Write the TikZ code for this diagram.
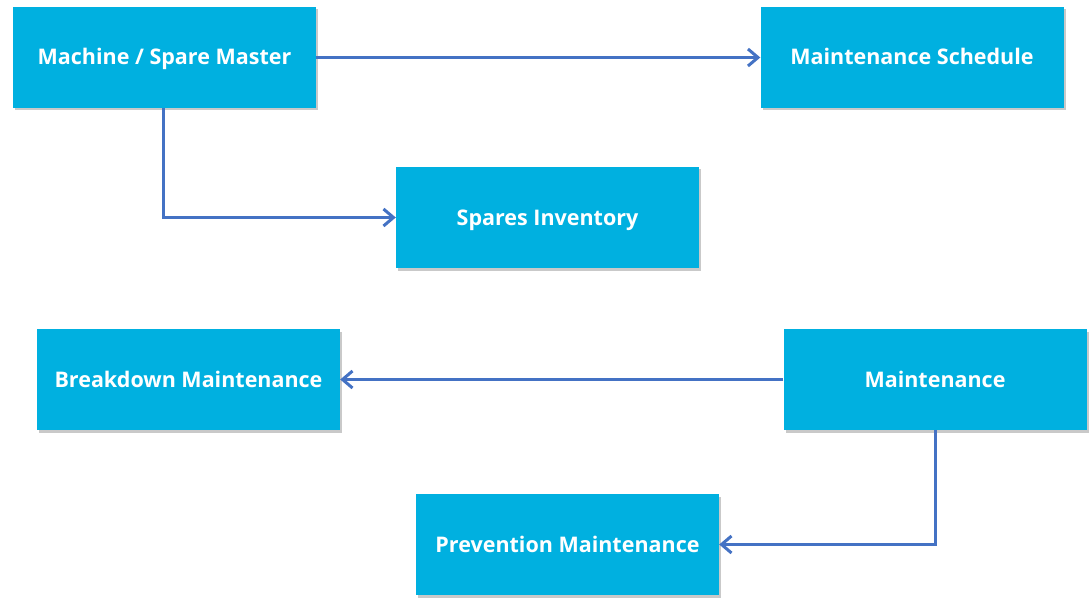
\documentclass[tikz,border=0pt]{standalone}
\usepackage{fontspec}
\setmainfont{Open Sans}
\usetikzlibrary{arrows.meta,shadows}
\definecolor{boxcyan}{HTML}{00B0E0}
\definecolor{arrowblue}{HTML}{4472C4}
\begin{document}
\begin{tikzpicture}[x=1pt,y=-1pt,
  blk/.style={fill=boxcyan, draw=none, minimum width=303pt, minimum height=101pt,
    inner sep=0pt, text=white, font=\fontsize{21.5}{25}\selectfont\bfseries,
    text height=19pt, text depth=4pt,
    drop shadow={shadow xshift=2pt, shadow yshift=-2.5pt, opacity=0.35, fill=black!60}},
  conn/.style={draw=arrowblue, line width=3pt, -{Straight Barb[length=10pt,width=17pt,line width=3pt]}}]
\useasboundingbox[fill=white] (0,0) rectangle (1091,604);
\node[blk] (msm) at (164.5,57.5) {Machine / Spare Master};
\node[blk] (ms) at (912,57.5) {Maintenance Schedule};
\node[blk] (si) at (547.5,217.5) {Spares Inventory};
\node[blk] (bm) at (188.5,379.5) {Breakdown Maintenance};
\node[blk] (m) at (935,379.5) {Maintenance};
\node[blk] (pm) at (567.5,544.5) {Prevention Maintenance};
\draw[conn] (msm.east) -- (ms.west);
\draw[conn] (msm.south -| 163,0) |- (si.west);
\draw[conn] (m.west) -- (bm.east);
\draw[conn] (m.south) |- (pm.east);
\end{tikzpicture}
\end{document}
